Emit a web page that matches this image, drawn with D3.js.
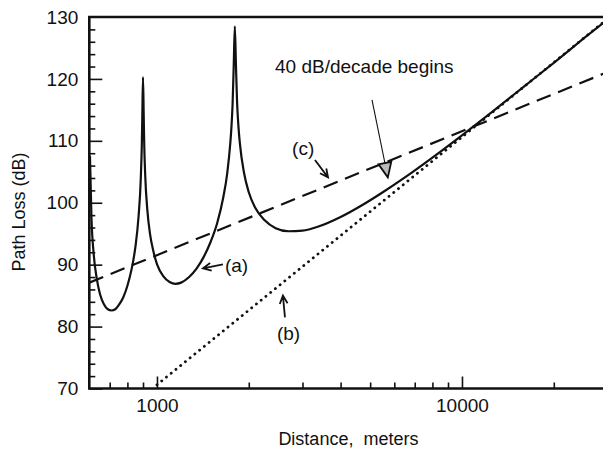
<!DOCTYPE html>
<html>
<head>
<meta charset="utf-8">
<script src="https://cdn.jsdelivr.net/npm/d3@7.9.0/dist/d3.min.js"></script>
<style>
  html, body { margin: 0; padding: 0; background: #fff; }
  svg text { font-family: "Liberation Sans", Arial, Helvetica, sans-serif; fill: #111; white-space: pre; }
</style>
</head>
<body>
<div id="chart"></div>
<script>
// ─── DATA ──────────────────────────────────────────────────────────────
// (a) two-ray path loss
const distA = [603, 610, 620, 635, 650, 670, 690, 710, 730, 750,
  775, 800, 825, 850, 870, 885, 892, 895, 900, 905,
  908, 915, 930, 950, 975, 1000, 1050, 1100, 1150, 1200,
  1275, 1350, 1425, 1500, 1575, 1650, 1700, 1740, 1755, 1770,
  1785, 1800, 1815, 1830, 1850, 1870, 1930, 2000, 2100, 2250,
  2450, 2700, 3000, 3400, 4000, 4700, 5500, 6500, 8000, 10000,
  12500, 16000, 20000, 25000, 30000];
const lossA = [107.6, 97.5, 91.8, 87.7, 85.3, 83.6, 82.8, 82.6, 82.8, 83.5,
  84.7, 86.6, 89.2, 92.9, 97.7, 103.9, 109.5, 113.6, 120.3, 113.8,
  109.8, 104.5, 98.8, 94.8, 92.0, 90.1, 88.1, 87.2, 86.9, 87.1,
  88.0, 89.4, 91.3, 93.7, 96.7, 100.9, 104.8, 109.7, 112.3, 116.0,
  122.1, 128.5, 122.4, 116.5, 112.3, 109.6, 104.8, 101.7, 99.2, 97.2,
  95.9, 95.4, 95.5, 96.2, 97.7, 99.6, 101.7, 104.1, 107.3, 110.9,
  114.6, 118.8, 122.6, 126.5, 129.6];
// (b) 40 dB/decade asymptote (dotted)
const distB = [1000, 30000];
const lossB = [70.6, 129.7];
// (c) free space 20 dB/decade (dashed)
const distC = [600, 30000];
const lossC = [87.1, 121.1];

const xMajor = [1000, 10000];
const xMinor = [700, 800, 900, 2000, 3000, 4000, 5000, 6000, 7000, 8000, 9000, 20000];
const yMajor = [70, 80, 90, 100, 110, 120, 130];
const yMinor = [72, 74, 76, 78, 82, 84, 86, 88, 92, 94, 96, 98, 102, 104, 106, 108,
  112, 114, 116, 118, 122, 124, 126, 128];

// ─── SETUP ─────────────────────────────────────────────────────────────
const W = 603, H = 450;
const X0 = 89.3, X1 = 607.5, Y0 = 388.5, Y1 = 17;
const FONT = '19px';

const svg = d3.select('#chart').append('svg')
  .attr('width', W).attr('height', H);

const x = d3.scaleLog().domain([600, 30000]).range([X0, X1]);
const y = d3.scaleLinear().domain([70, 130]).range([Y0, Y1]);

// ─── AXES ──────────────────────────────────────────────────────────────
svg.append('g').attr('transform', `translate(0,${Y0})`)
  .call(d3.axisBottom(x).tickValues(xMajor).tickFormat(d3.format('d'))
    .tickSize(-12).tickSizeOuter(0).tickPadding(10));
svg.append('g').attr('transform', `translate(0,${Y0})`)
  .call(d3.axisBottom(x).tickValues(xMinor).tickFormat('').tickSize(-6).tickSizeOuter(0));

const gy = svg.append('g').attr('transform', `translate(${X0},0)`)
  .call(d3.axisLeft(y).tickValues(yMajor).tickSize(-13).tickSizeOuter(0).tickPadding(11));
svg.append('g').attr('transform', `translate(${X0},0)`)
  .call(d3.axisLeft(y).tickValues(yMinor).tickFormat('').tickSize(-6).tickSizeOuter(0));

svg.selectAll('.tick line').attr('stroke', '#111').attr('stroke-width', 1.6);
svg.selectAll('.domain').remove();
svg.selectAll('.tick text').style('font-size', FONT).attr('fill', '#111');
gy.select('.tick:last-of-type line').remove();

// frame
svg.append('path')
  .attr('d', `M${X1},${Y1}H${X0}V${Y0}H${X1}`)
  .attr('fill', 'none').attr('stroke', '#111').attr('stroke-width', 2.6);

// axis titles
svg.append('text')
  .attr('x', (X0 + X1) / 2).attr('y', 445)
  .attr('text-anchor', 'middle').style('font-size', '18px')
  .text('Distance,  meters');
svg.append('text')
  .attr('transform', 'translate(25,212) rotate(-90)')
  .attr('text-anchor', 'middle').style('font-size', '18px')
  .text('Path Loss (dB)');

// ─── LINES ─────────────────────────────────────────────────────────────
svg.append('clipPath').attr('id', 'plot-clip')
  .append('rect').attr('x', X0).attr('y', Y1).attr('width', X1 - X0).attr('height', Y0 - Y1);

const plot = svg.append('g').attr('clip-path', 'url(#plot-clip)');

const zip = (ds, vs) => ds.map((d, i) => [d, vs[i]]);
const line = d3.line().x(d => x(d[0])).y(d => y(d[1]));

plot.append('path')
  .datum(zip(distC, lossC))
  .attr('d', line)
  .attr('fill', 'none').attr('stroke', '#111').attr('stroke-width', 2.2)
  .attr('stroke-dasharray', '15 8');

plot.append('path')
  .datum(zip(distB, lossB))
  .attr('d', line)
  .attr('fill', 'none').attr('stroke', '#111').attr('stroke-width', 2.8)
  .attr('stroke-linecap', 'round')
  .attr('stroke-dasharray', '0.1 6');

plot.append('path')
  .datum(zip(distA, lossA))
  .attr('d', line.curve(d3.curveMonotoneX))
  .attr('fill', 'none').attr('stroke', '#111').attr('stroke-width', 2.2)
  .attr('stroke-linejoin', 'round');

// ─── ANNOTATIONS ───────────────────────────────────────────────────────
const labels = [
  { text: '40 dB/decade begins', d: 2438, v: 120.9 },
  { text: '(c)', d: 2774, v: 107.7 },
  { text: '(a)', d: 1671, v: 88.8 },
  { text: '(b)', d: 2474, v: 77.9 }
];
svg.selectAll('text.note').data(labels).join('text')
  .attr('class', 'note')
  .attr('x', d => x(d.d)).attr('y', d => y(d.v))
  .style('font-size', FONT)
  .text(d => d.text);

// open-V arrows: [from, tip]
const arrows = [
  { from: [3296, 106.9], to: [3638, 104.1] },
  { from: [1646, 90.05], to: [1415, 89.4] },
  { from: [2628, 81.5], to: [2588, 85.0] }
];
arrows.forEach(a => {
  const x0 = x(a.from[0]), y0 = y(a.from[1]);
  const x1 = x(a.to[0]), y1 = y(a.to[1]);
  const ang = Math.atan2(y1 - y0, x1 - x0);
  const L = 9, spread = 0.45;
  svg.append('path')
    .attr('d', `M${x0},${y0}L${x1},${y1}` +
      `M${x1 - L * Math.cos(ang - spread)},${y1 - L * Math.sin(ang - spread)}` +
      `L${x1},${y1}` +
      `L${x1 - L * Math.cos(ang + spread)},${y1 - L * Math.sin(ang + spread)}`)
    .attr('fill', 'none').attr('stroke', '#111').attr('stroke-width', 1.8)
    .attr('stroke-linejoin', 'miter');
});

// triangle-head arrow for "40 dB/decade begins"
{
  const x0 = x(5070), y0 = y(116.6);
  const x1 = x(5714), y1 = y(104.1);
  const ang = Math.atan2(y1 - y0, x1 - x0);
  const L = 16, spread = 0.42;
  svg.append('line')
    .attr('x1', x0).attr('y1', y0).attr('x2', x1 - L * Math.cos(ang) * 0.9).attr('y2', y1 - L * Math.sin(ang) * 0.9)
    .attr('stroke', '#111').attr('stroke-width', 1.1);
  svg.append('path')
    .attr('d', `M${x1},${y1}` +
      `L${x1 - L * Math.cos(ang - spread)},${y1 - L * Math.sin(ang - spread)}` +
      `L${x1 - L * Math.cos(ang + spread)},${y1 - L * Math.sin(ang + spread)}Z`)
    .attr('fill', '#bbb').attr('stroke', '#111').attr('stroke-width', 1.8);
}
</script>
</body>
</html>
